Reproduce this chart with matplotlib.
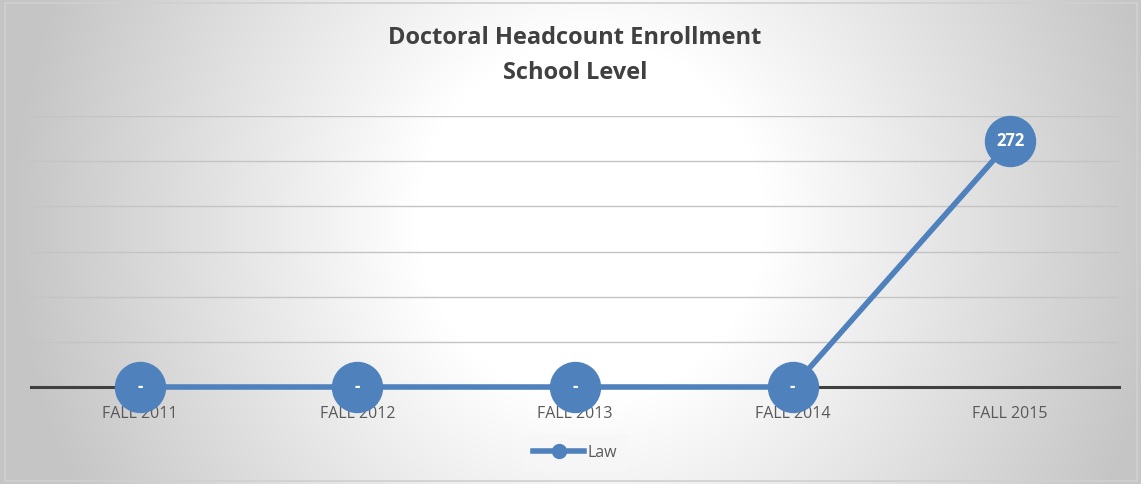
import numpy as np
import matplotlib
matplotlib.use("Agg")
import matplotlib.pyplot as plt
from matplotlib.patches import Rectangle
from matplotlib.lines import Line2D

categories = ["FALL 2011", "FALL 2012", "FALL 2013", "FALL 2014", "FALL 2015"]
law_values = [0, 0, 0, 0, 272]
series_name = "Law"
title_lines = ["Doctoral Headcount Enrollment", "School Level"]

W, H = 1141, 484
fig = plt.figure(figsize=(W / 100, H / 100), dpi=100)
FONT = ["Open Sans", "DejaVu Sans"]

# background radial gradient
bg = fig.add_axes([0, 0, 1, 1], zorder=-5)
yy, xx = np.mgrid[0:H, 0:W]
cx, cy = 590, 220
d = np.sqrt(((xx - cx) / 580.0) ** 2 + ((yy - cy) / 600.0) ** 2)
t = np.clip((d - 0.3) / 0.7, 0, 1)
val = (255 - 58 * t) / 255.0
img = np.dstack([val, val, val])
bg.imshow(img, extent=[0, W, H, 0], aspect="auto")
bg.set_xlim(0, W)
bg.set_ylim(H, 0)
bg.axis("off")
bg.add_patch(Rectangle((5, 3), 1132, 478, fill=False, edgecolor="#d0d0d0", linewidth=1.2))

ax = fig.add_axes([31 / W, 97 / H, 1088 / W, 271 / H])
ax.set_facecolor("none")
x = np.arange(len(categories))
ax.set_xlim(-0.5, len(categories) - 0.5)
ax.set_ylim(0, 300)
ax.set_yticks([50, 100, 150, 200, 250, 300])
ax.yaxis.grid(True, color="#c4c4c4", linewidth=1.0)
ax.tick_params(axis="y", left=False, labelleft=False)
ax.tick_params(axis="x", bottom=False, pad=10)
for s in ["top", "right", "left"]:
    ax.spines[s].set_visible(False)
ax.spines["bottom"].set_color("#404040")
ax.spines["bottom"].set_linewidth(2.2)
ax.set_xticks(x)
ax.set_xticklabels(categories, fontsize=11.5, color="#595959", family=FONT)

blue = "#4f81bd"
ax.plot(x, law_values, color=blue, linewidth=4, marker="o", markersize=36,
        markerfacecolor=blue, markeredgecolor=blue, clip_on=False, zorder=5,
        solid_capstyle="round")
for xi, v in zip(x, law_values):
    lbl = "-" if v == 0 else str(v)
    ax.text(xi, v, lbl, ha="center", va="center", color="white", fontsize=12,
            fontweight="bold", family=FONT, zorder=6, clip_on=False)

# legend
h = Line2D([0], [0], color=blue, linewidth=4, marker="o", markersize=10)
leg = fig.legend([h], [series_name], loc="center", bbox_to_anchor=(575 / W, 1 - 453 / H),
                 frameon=True, handlelength=3.2, handletextpad=0.2,
                 prop={"family": FONT, "size": 11.5})
leg.get_frame().set_facecolor("#f7f7f7")
leg.get_frame().set_edgecolor("none")
leg.get_frame().set_alpha(0.6)
leg.get_frame().set_boxstyle("square")
for tx in leg.get_texts():
    tx.set_color("#595959")

for i, (line, ypix) in enumerate(zip(title_lines, [38, 73])):
    fig.text(575 / W, 1 - ypix / H, line, ha="center", va="center", fontsize=17,
             fontweight="bold", color="#404040", family=FONT)

fig.savefig("out.png", dpi=100)
